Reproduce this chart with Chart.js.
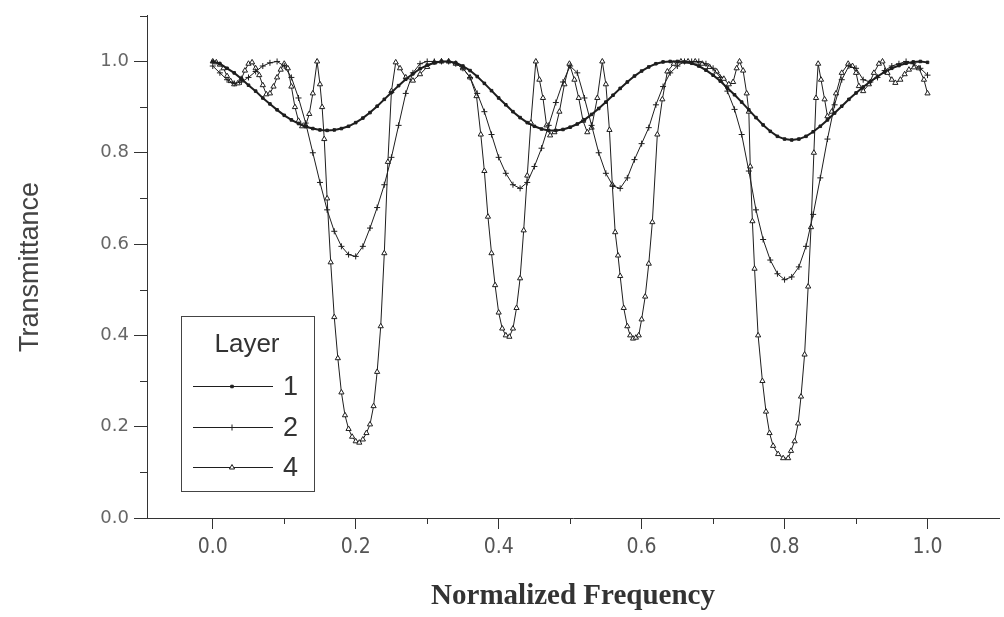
<!DOCTYPE html>
<html>
<head>
<meta charset="utf-8">
<title>Transmittance</title>
<script src="https://cdn.jsdelivr.net/npm/chart.js@4.4.1/dist/chart.umd.min.js"></script>
<style>
  html, body { margin: 0; padding: 0; background: #fff; }
  #wrap { width: 1004px; height: 617px; }
</style>
</head>
<body>
<div id="wrap"><canvas id="chart" width="1004" height="617"></canvas></div>
<script>
// legend labels (number of layers)
const layerLabels = ['1', '2', '4'];

// normalized frequency grid shared by layer 1 and layer 2
const freqGrid = [
  0.00, 0.01, 0.02, 0.03, 0.04, 0.05, 0.06, 0.07, 0.08, 0.09,
  0.10, 0.11, 0.12, 0.13, 0.14, 0.15, 0.16, 0.17, 0.18, 0.19,
  0.20, 0.21, 0.22, 0.23, 0.24, 0.25, 0.26, 0.27, 0.28, 0.29,
  0.30, 0.31, 0.32, 0.33, 0.34, 0.35, 0.36, 0.37, 0.38, 0.39,
  0.40, 0.41, 0.42, 0.43, 0.44, 0.45, 0.46, 0.47, 0.48, 0.49,
  0.50, 0.51, 0.52, 0.53, 0.54, 0.55, 0.56, 0.57, 0.58, 0.59,
  0.60, 0.61, 0.62, 0.63, 0.64, 0.65, 0.66, 0.67, 0.68, 0.69,
  0.70, 0.71, 0.72, 0.73, 0.74, 0.75, 0.76, 0.77, 0.78, 0.79,
  0.80, 0.81, 0.82, 0.83, 0.84, 0.85, 0.86, 0.87, 0.88, 0.89,
  0.90, 0.91, 0.92, 0.93, 0.94, 0.95, 0.96, 0.97, 0.98, 0.99,
  1.00
];

const transLayer1 = [
  1.000, 0.995, 0.985, 0.975, 0.962, 0.948, 0.935, 0.920, 0.907, 0.894,
  0.882, 0.872, 0.864, 0.857, 0.853, 0.850, 0.849, 0.850, 0.853, 0.858,
  0.866, 0.876, 0.888, 0.902, 0.917, 0.932, 0.947, 0.961, 0.973, 0.984,
  0.992, 0.997, 1.000, 1.000, 0.997, 0.990, 0.980, 0.967, 0.952, 0.936,
  0.920, 0.905, 0.890, 0.877, 0.866, 0.858, 0.852, 0.849, 0.849, 0.851,
  0.856, 0.863, 0.872, 0.884, 0.897, 0.911, 0.926, 0.941, 0.955, 0.968,
  0.979, 0.988, 0.995, 0.999, 1.000, 1.000, 0.999, 0.996, 0.990, 0.981,
  0.970, 0.957, 0.942, 0.927, 0.911, 0.894, 0.877, 0.861, 0.847, 0.836,
  0.830, 0.828, 0.830, 0.836, 0.846, 0.858, 0.872, 0.887, 0.902, 0.917,
  0.931, 0.944, 0.956, 0.967, 0.977, 0.985, 0.991, 0.996, 0.999, 1.000,
  0.998
];

const transLayer2 = [
  0.990, 0.975, 0.960, 0.952, 0.955, 0.965, 0.978, 0.990, 0.997, 1.000,
  0.990, 0.965, 0.920, 0.865, 0.800, 0.735, 0.675, 0.628, 0.595, 0.577,
  0.573, 0.595, 0.635, 0.680, 0.730, 0.790, 0.860, 0.930, 0.975, 0.995,
  1.000, 1.000, 1.000, 1.000, 0.995, 0.985, 0.965, 0.930, 0.890, 0.840,
  0.790, 0.755, 0.730, 0.722, 0.735, 0.770, 0.810, 0.860, 0.910, 0.955,
  0.990, 0.975, 0.920, 0.860, 0.800, 0.755, 0.727, 0.722, 0.745, 0.785,
  0.820, 0.855, 0.905, 0.945, 0.975, 0.990, 1.000, 1.000, 1.000, 0.995,
  0.985, 0.965, 0.935, 0.895, 0.840, 0.760, 0.675, 0.610, 0.565, 0.535,
  0.522, 0.528, 0.550, 0.595, 0.665, 0.745, 0.830, 0.905, 0.960, 0.990,
  0.985, 0.960, 0.955, 0.965, 0.980, 0.990, 0.995, 1.000, 0.995, 0.985,
  0.970
];

// layer 4 has narrow features, so it is sampled unevenly
const freqLayer4 = [
  0.000, 0.005, 0.010, 0.015, 0.020, 0.025, 0.030, 0.035, 0.040, 0.045,
  0.050, 0.055, 0.060, 0.065, 0.070, 0.075, 0.080, 0.085, 0.090, 0.095,
  0.100, 0.105, 0.110, 0.115, 0.120, 0.125, 0.130, 0.135, 0.140, 0.146,
  0.150, 0.153, 0.156, 0.160, 0.165, 0.170, 0.175, 0.180, 0.185, 0.190,
  0.195, 0.200, 0.205, 0.210, 0.215, 0.220, 0.225, 0.230, 0.235, 0.240,
  0.245, 0.250, 0.256, 0.262, 0.270, 0.280, 0.290, 0.300, 0.310, 0.320,
  0.330, 0.340, 0.350, 0.360, 0.369, 0.375, 0.380, 0.385, 0.390, 0.395,
  0.400, 0.405, 0.410, 0.415, 0.420, 0.425, 0.430, 0.435, 0.440, 0.445,
  0.452, 0.457, 0.462, 0.467, 0.472, 0.478, 0.485, 0.492, 0.499, 0.506,
  0.512, 0.518, 0.524, 0.530, 0.538, 0.545, 0.550, 0.555, 0.559, 0.563,
  0.567, 0.570, 0.575, 0.580, 0.584, 0.588, 0.592, 0.596, 0.600, 0.605,
  0.610, 0.615, 0.622, 0.629, 0.636, 0.645, 0.655, 0.665, 0.675, 0.685,
  0.695, 0.705, 0.715, 0.722, 0.728, 0.733, 0.737, 0.742, 0.747, 0.750,
  0.752, 0.755, 0.758, 0.763, 0.769, 0.774, 0.779, 0.784, 0.791, 0.798,
  0.805, 0.809, 0.814, 0.819, 0.823, 0.828, 0.833, 0.837, 0.841, 0.844,
  0.847, 0.851, 0.856, 0.860, 0.866, 0.872, 0.880, 0.889, 0.895, 0.900,
  0.904, 0.910, 0.918, 0.925, 0.932, 0.937, 0.944, 0.950, 0.955, 0.962,
  0.968, 0.974, 0.981, 0.988, 0.995, 1.000
];

const transLayer4 = [
  1.000, 0.998, 0.993, 0.985, 0.968, 0.957, 0.950, 0.952, 0.962, 0.980,
  0.995, 0.998, 0.985, 0.970, 0.948, 0.928, 0.930, 0.945, 0.965, 0.982,
  0.995, 0.985, 0.945, 0.900, 0.870, 0.858, 0.860, 0.885, 0.930, 1.000,
  0.950, 0.900, 0.830, 0.700, 0.560, 0.440, 0.350, 0.275, 0.225, 0.195,
  0.178, 0.168, 0.165, 0.172, 0.186, 0.205, 0.245, 0.320, 0.420, 0.580,
  0.780, 0.935, 0.998, 0.985, 0.965, 0.958, 0.972, 0.988, 0.998, 1.000,
  1.000, 0.995, 0.985, 0.965, 0.924, 0.840, 0.760, 0.660, 0.580, 0.510,
  0.450, 0.415, 0.400, 0.397, 0.415, 0.460, 0.525, 0.630, 0.750, 0.866,
  1.000, 0.960, 0.920, 0.860, 0.838, 0.845, 0.890, 0.950, 0.995, 0.960,
  0.920, 0.870, 0.845, 0.855, 0.920, 1.000, 0.950, 0.850, 0.730, 0.626,
  0.575, 0.530, 0.460, 0.420, 0.400, 0.393, 0.395, 0.400, 0.435, 0.485,
  0.557, 0.648, 0.840, 0.917, 0.978, 0.995, 1.000, 1.000, 1.000, 0.995,
  0.988, 0.978, 0.962, 0.950, 0.955, 0.985, 1.000, 0.980, 0.930, 0.890,
  0.770, 0.650, 0.546, 0.400, 0.300, 0.233, 0.186, 0.158, 0.140, 0.131,
  0.131, 0.147, 0.168, 0.207, 0.266, 0.358, 0.507, 0.637, 0.800, 0.920,
  0.995, 0.960, 0.917, 0.880, 0.890, 0.930, 0.975, 0.995, 0.990, 0.975,
  0.946, 0.935, 0.950, 0.975, 0.995, 1.000, 0.975, 0.960, 0.953, 0.960,
  0.972, 0.982, 0.987, 0.985, 0.960, 0.930
];

// axis ticks
const xMajorTicks = [0.0, 0.2, 0.4, 0.6, 0.8, 1.0];
const xMinorTicks = [0.1, 0.3, 0.5, 0.7, 0.9];
const yMajorTicks = [0.0, 0.2, 0.4, 0.6, 0.8, 1.0];
const yMinorTicks = [0.1, 0.3, 0.5, 0.7, 0.9, 1.1];

const INK = '#1e1e1e';
const AXIS = '#333';

function toPoints(xs, ys) {
  return xs.map((x, i) => ({ x: x, y: ys[i] }));
}

// short minor ticks, drawn through the scales
const minorTicks = {
  id: 'minorTicks',
  afterDraw(chart) {
    const { ctx, scales: { x, y } } = chart;
    ctx.save();
    ctx.strokeStyle = AXIS;
    ctx.lineWidth = 1;
    xMinorTicks.forEach(v => {
      const px = Math.round(x.getPixelForValue(v)) + 0.5;
      ctx.beginPath();
      ctx.moveTo(px, x.top);
      ctx.lineTo(px, x.top + 6);
      ctx.stroke();
    });
    yMinorTicks.forEach(v => {
      const py = Math.round(y.getPixelForValue(v)) + 0.5;
      ctx.beginPath();
      ctx.moveTo(y.right - 7, py);
      ctx.lineTo(y.right, py);
      ctx.stroke();
    });
    ctx.restore();
  }
};

// boxed legend in the lower left of the plot, like the original
const layerLegend = {
  id: 'layerLegend',
  afterDraw(chart) {
    const ctx = chart.ctx;
    ctx.save();
    ctx.fillStyle = '#fff';
    ctx.fillRect(181, 316, 134, 176);
    ctx.strokeStyle = '#444';
    ctx.lineWidth = 1;
    ctx.strokeRect(181.5, 316.5, 133, 175);

    ctx.fillStyle = '#333';
    ctx.font = '26px "Liberation Sans", Arial, sans-serif';
    ctx.textAlign = 'center';
    ctx.textBaseline = 'alphabetic';
    ctx.fillText('Layer', 247, 352);

    chart.data.datasets.forEach((ds, i) => {
      const y = Math.round(386 + i * 40.5) + 0.5;
      ctx.strokeStyle = ds.borderColor;
      ctx.lineWidth = 1;
      ctx.beginPath();
      ctx.moveTo(193, y);
      ctx.lineTo(273, y);
      ctx.stroke();
      ctx.fillStyle = ds.pointBackgroundColor;
      ctx.strokeStyle = ds.pointBorderColor;
      ctx.lineWidth = ds.pointBorderWidth;
      Chart.helpers.drawPoint(ctx, {
        pointStyle: ds.pointStyle,
        radius: ds.pointRadius,
        borderWidth: ds.pointBorderWidth,
        rotation: 0
      }, 232, y);
      ctx.fillStyle = '#333';
      ctx.font = '27px "Liberation Sans", Arial, sans-serif';
      ctx.textAlign = 'left';
      ctx.textBaseline = 'middle';
      ctx.fillText(ds.label, 283, y + 1);
    });
    ctx.restore();
  }
};

new Chart(document.getElementById('chart'), {
  type: 'line',
  data: {
    datasets: [
      {
        label: layerLabels[0],
        data: toPoints(freqGrid, transLayer1),
        borderColor: INK,
        borderWidth: 2,
        pointStyle: 'rect',
        pointRadius: 1.8,
        pointBackgroundColor: INK,
        pointBorderColor: INK,
        pointBorderWidth: 1
      },
      {
        label: layerLabels[1],
        data: toPoints(freqGrid, transLayer2),
        borderColor: INK,
        borderWidth: 1,
        pointStyle: 'cross',
        pointRadius: 3,
        pointBackgroundColor: INK,
        pointBorderColor: INK,
        pointBorderWidth: 1
      },
      {
        label: layerLabels[2],
        data: toPoints(freqLayer4, transLayer4),
        borderColor: INK,
        borderWidth: 1,
        pointStyle: 'triangle',
        pointRadius: 3,
        pointBackgroundColor: '#fff',
        pointBorderColor: INK,
        pointBorderWidth: 1
      }
    ]
  },
  options: {
    responsive: false,
    animation: false,
    devicePixelRatio: 1,
    layout: { padding: { top: 10, right: 0, left: 0, bottom: 0 } },
    plugins: {
      legend: { display: false },
      tooltip: { enabled: false }
    },
    elements: { line: { tension: 0 } },
    scales: {
      x: {
        type: 'linear',
        min: -0.092,
        max: 1.1,
        afterBuildTicks: s => { s.ticks = xMajorTicks.map(v => ({ value: v })); },
        afterFit: s => { s.height = 99; },
        grid: { drawOnChartArea: false, tickLength: 11, color: AXIS },
        border: { display: true, color: AXIS, width: 1 },
        ticks: {
          autoSkip: false,
          maxRotation: 0,
          padding: 6,
          color: '#555',
          font: { family: '"Liberation Sans Narrow", "DejaVu Sans Condensed", sans-serif', size: 21 },
          callback: v => v.toFixed(1)
        },
        title: {
          display: true,
          text: 'Normalized Frequency',
          color: '#333',
          font: { family: '"Liberation Serif", "DejaVu Serif", serif', size: 29, weight: 'bold' },
          padding: { top: 0, bottom: 3 }
        }
      },
      y: {
        type: 'linear',
        min: 0,
        max: 1.1,
        afterBuildTicks: s => { s.ticks = yMajorTicks.map(v => ({ value: v })); },
        afterFit: s => { s.width = 147; },
        grid: { drawOnChartArea: false, tickLength: 13, color: AXIS },
        border: { display: true, color: AXIS, width: 1 },
        ticks: {
          autoSkip: false,
          padding: 5,
          color: '#666',
          font: { family: '"DejaVu Sans", sans-serif', size: 18 },
          callback: v => v.toFixed(1)
        },
        title: {
          display: true,
          text: 'Transmittance',
          color: '#444',
          font: { family: '"Liberation Sans", Arial, sans-serif', size: 27 },
          padding: { top: 14, bottom: 0 }
        }
      }
    }
  },
  plugins: [minorTicks, layerLegend]
});
</script>
</body>
</html>
